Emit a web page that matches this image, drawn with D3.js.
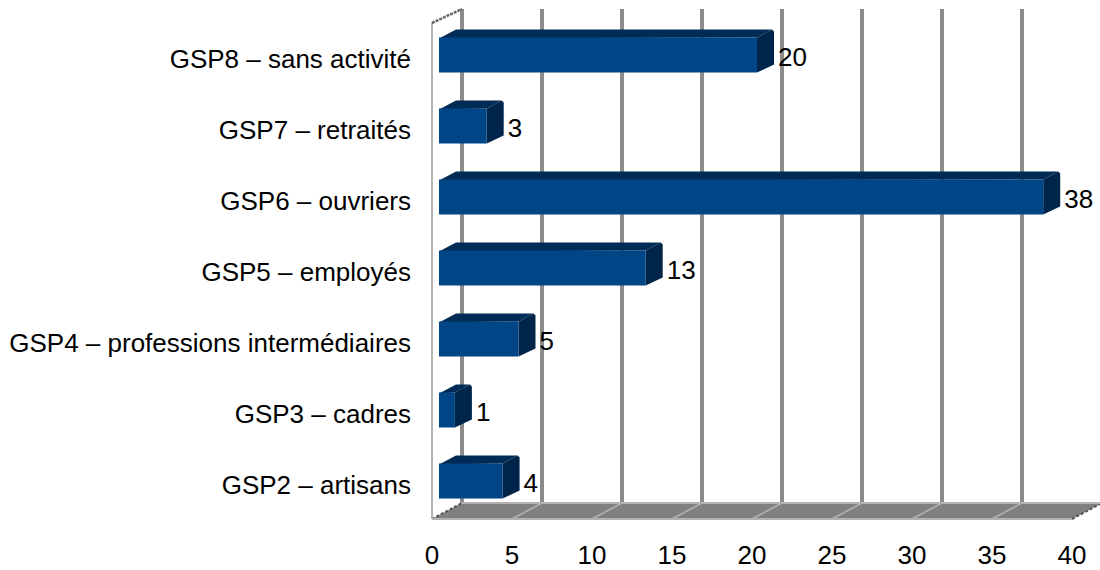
<!DOCTYPE html>
<html>
<head>
<meta charset="utf-8">
<script src="https://cdnjs.cloudflare.com/ajax/libs/d3/7.8.5/d3.min.js"></script>
<style>
  html, body { margin: 0; padding: 0; background: #fff; }
  svg { display: block; }
  text { font-family: "Liberation Sans", Arial, sans-serif; fill: #000; }
</style>
</head>
<body>
<div id="container"></div>
<script>
var categories = [
  "GSP8 – sans activité",
  "GSP7 – retraités",
  "GSP6 – ouvriers",
  "GSP5 – employés",
  "GSP4 – professions intermédiaires",
  "GSP3 – cadres",
  "GSP2 – artisans"
]
var values = [20, 3, 38, 13, 5, 1, 4]
var ticks = [0, 5, 10, 15, 20, 25, 30, 35, 40]

var width = 1100,
  height = 570

// Décalage de la profondeur 3D
var wallDx = 30, wallDy = 16
var barDx = 17, barDy = 8

var svg = d3.select("#container")
  .append("svg")
  .attr("width", width)
  .attr("height", height)

// Escalas
var xFloor = d3.scaleLinear().domain([0, 40]).range([432, 1072])
var xBar = d3.scaleLinear().domain([0, 40]).range([439, 1075])
var yBand = d3.scaleBand()
  .domain(categories)
  .range([19, 516])
  .paddingInner(0.507)
  .paddingOuter(0.2535)

var yTop = 23, yBottom = 519

// Sol
svg.append("polygon")
  .attr("points", [
    [xFloor(0), yBottom], [xFloor(0) + wallDx, yBottom - wallDy],
    [xFloor(40) + wallDx, yBottom - wallDy], [xFloor(40), yBottom]
  ].join(" "))
  .attr("fill", "#808080")

// Lignes de la grille, mur du fond
svg.selectAll(".grid")
  .data(ticks)
  .enter().append("line")
  .attr("class", "grid")
  .attr("x1", function(d) { return xFloor(d) + wallDx })
  .attr("x2", function(d) { return xFloor(d) + wallDx })
  .attr("y1", yTop - wallDy + 2)
  .attr("y2", yBottom - wallDy)
  .attr("stroke", "#8c8c8c")
  .attr("stroke-width", 4)

// Lignes du sol
svg.selectAll(".floor")
  .data(ticks)
  .enter().append("line")
  .attr("class", "floor")
  .attr("x1", function(d) { return xFloor(d) })
  .attr("x2", function(d) { return xFloor(d) + wallDx })
  .attr("y1", yBottom)
  .attr("y2", yBottom - wallDy)
  .attr("stroke", function(d) { return (d === 0 || d === 40) ? "#555" : "#b3b3b3" })
  .attr("stroke-width", function(d) { return (d === 0 || d === 40) ? 2 : 1.5 })
  .attr("stroke-dasharray", function(d) { return (d === 0 || d === 40) ? "3 2" : null })

svg.append("line")
  .attr("x1", xFloor(0) + wallDx).attr("x2", width)
  .attr("y1", yBottom - wallDy).attr("y2", yBottom - wallDy)
  .attr("stroke", "#b3b3b3").attr("stroke-width", 2)

svg.append("line")
  .attr("x1", xFloor(0)).attr("x2", xFloor(40))
  .attr("y1", yBottom).attr("y2", yBottom)
  .attr("stroke", "#b3b3b3").attr("stroke-width", 2)

// Mur de gauche
svg.append("line")
  .attr("x1", xFloor(0)).attr("x2", xFloor(0))
  .attr("y1", yTop).attr("y2", yBottom)
  .attr("stroke", "#b3b3b3").attr("stroke-width", 2)

svg.append("line")
  .attr("x1", xFloor(0)).attr("x2", xFloor(0) + wallDx)
  .attr("y1", yTop).attr("y2", yTop - wallDy + 2)
  .attr("stroke", "#666").attr("stroke-width", 2.5)
  .attr("stroke-dasharray", "3 1")

// Barres
var bars = svg.selectAll(".bar")
  .data(values)
  .enter().append("g")
  .attr("class", "bar")

// Dessus
bars.append("path")
  .attr("fill", "#002b55")
  .attr("d", function(d, i) {
    var x0 = xBar(0), x1 = xBar(d), y = yBand(categories[i]) + 0.5
    return "M" + x0 + "," + (y + 1) + "L" + (x0 + barDx) + "," + (y - barDy) +
      "L" + (x1 + barDx - 2) + "," + (y - barDy) + "L" + x1 + "," + y + "Z"
  })

// Côté
bars.append("path")
  .attr("fill", "#00254b")
  .attr("d", function(d, i) {
    var x1 = xBar(d), y = yBand(categories[i]) + 0.5, b = yBand.bandwidth()
    return "M" + x1 + "," + y + "L" + (x1 + barDx - 2) + "," + (y - barDy) +
      "L" + (x1 + barDx) + "," + (y - barDy + 2) + "L" + (x1 + barDx) + "," + (y + b - barDy) +
      "L" + x1 + "," + (y + b) + "Z"
  })

// Face
bars.append("rect")
  .attr("x", xBar(0))
  .attr("y", function(d, i) { return yBand(categories[i]) + 0.5 })
  .attr("width", function(d) { return xBar(d) - xBar(0) })
  .attr("height", yBand.bandwidth())
  .attr("fill", "#004586")

// Étiquettes de valeur
svg.selectAll(".value")
  .data(values)
  .enter().append("text")
  .attr("class", "value")
  .attr("x", function(d) { return xBar(d) + barDx + 4 })
  .attr("y", function(d, i) { return yBand(categories[i]) + yBand.bandwidth() / 2 + 2 })
  .attr("dy", "0.35em")
  .attr("font-size", 26)
  .text(function(d) { return d })

// Catégories
svg.selectAll(".cat")
  .data(categories)
  .enter().append("text")
  .attr("class", "cat")
  .attr("x", 411)
  .attr("y", function(d) { return yBand(d) + yBand.bandwidth() / 2 + 4 })
  .attr("dy", "0.35em")
  .attr("text-anchor", "end")
  .attr("font-size", 26)
  .text(function(d) { return d })

// Axe x
svg.selectAll(".tick-label")
  .data(ticks)
  .enter().append("text")
  .attr("class", "tick-label")
  .attr("x", function(d) { return xFloor(d) })
  .attr("y", 555)
  .attr("dy", "0.35em")
  .attr("text-anchor", "middle")
  .attr("font-size", 26)
  .text(function(d) { return d })
</script>
</body>
</html>
